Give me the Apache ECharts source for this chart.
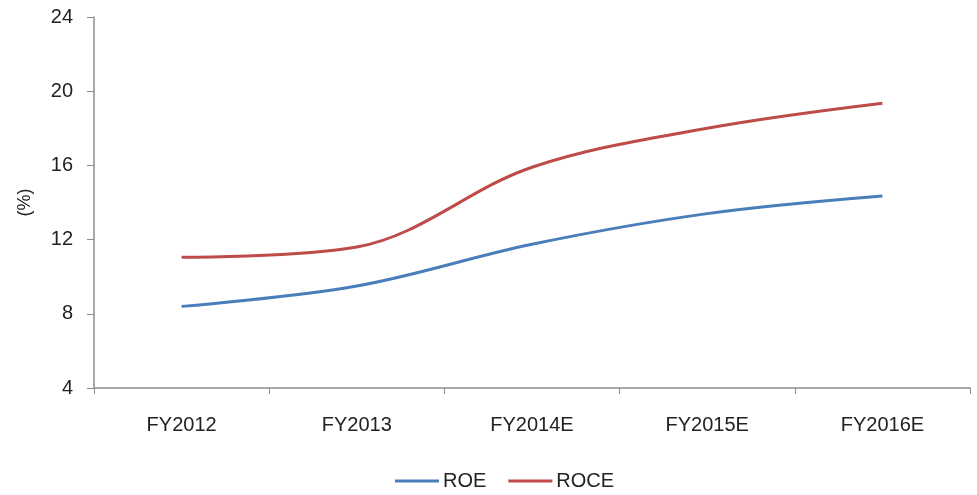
<!DOCTYPE html>
<html>
<head>
<meta charset="utf-8">
<script src="https://cdn.jsdelivr.net/npm/echarts@6/dist/echarts.min.js"></script>
<style>
html,body{margin:0;padding:0;background:#fff;}
#chart{width:977px;height:495px;}
</style>
</head>
<body>
<div id="chart"></div>
<script>
const categories = ['FY2012', 'FY2013', 'FY2014E', 'FY2015E', 'FY2016E'];
const roe = [8.4, 9.5, 11.75, 13.4, 14.35];
const roce = [11.05, 11.6, 15.9, 18.0, 19.35];
const yTicks = [4, 8, 12, 16, 20, 24];

const chart = echarts.init(document.getElementById('chart'));
const font = 'Liberation Sans, Arial, sans-serif';
chart.setOption({
  animation: false,
  grid: { left: 94, right: 7, top: 17, bottom: 107 },
  legend: {
    top: 471,
    left: 395,
    padding: 0,
    itemWidth: 44,
    itemHeight: 3,
    itemGap: 22,
    icon: 'rect',
    textStyle: { fontFamily: font, fontSize: 20, color: '#222', padding: [0, 0, 0, -1] },
    data: ['ROE', 'ROCE']
  },
  xAxis: {
    type: 'category',
    data: categories,
    boundaryGap: true,
    axisLine: { lineStyle: { color: '#8c8c8c', width: 1.5 } },
    axisTick: { show: true, length: 6, lineStyle: { color: '#8c8c8c' } },
    axisLabel: { fontFamily: font, fontSize: 20, color: '#222', margin: 27 }
  },
  yAxis: {
    type: 'value',
    min: yTicks[0],
    max: yTicks[yTicks.length - 1],
    interval: 4,
    name: '(%)',
    nameLocation: 'middle',
    nameRotate: 90,
    nameGap: 60,
    nameTextStyle: { fontFamily: font, fontSize: 18, color: '#222' },
    axisLine: { show: true, lineStyle: { color: '#8c8c8c', width: 1.5 } },
    axisTick: { show: true, length: 7, lineStyle: { color: '#8c8c8c' } },
    splitLine: { show: false },
    axisLabel: { fontFamily: font, fontSize: 20, color: '#222', margin: 21 }
  },
  series: [
    {
      name: 'ROE', type: 'line', data: roe, smooth: 0.35, symbol: 'none',
      lineStyle: { color: '#4a7ebb', width: 3 }, itemStyle: { color: '#4a7ebb' }
    },
    {
      name: 'ROCE', type: 'line', data: roce, smooth: 0.35, symbol: 'none',
      lineStyle: { color: '#be4b48', width: 3 }, itemStyle: { color: '#be4b48' }
    }
  ]
});
</script>
</body>
</html>
